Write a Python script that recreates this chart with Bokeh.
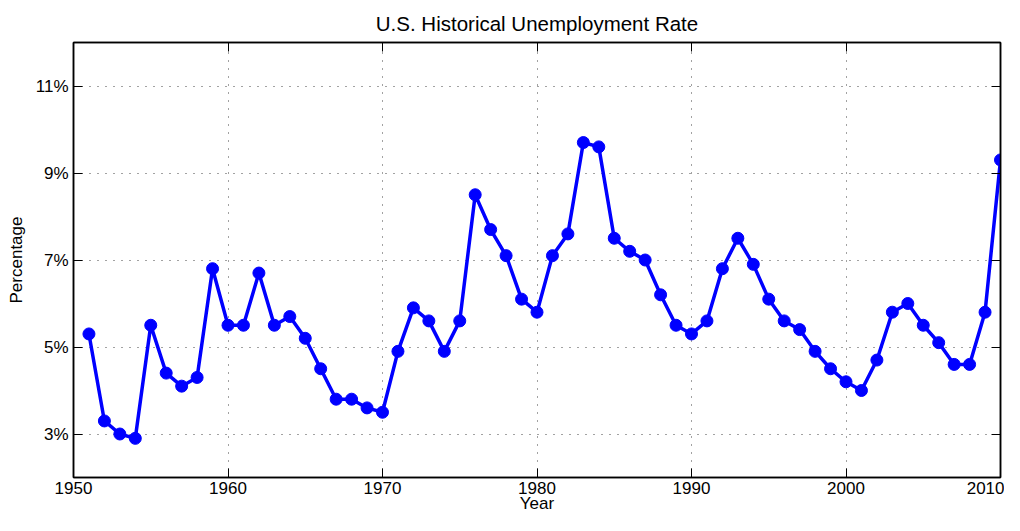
from bokeh.plotting import figure
from bokeh.models import (LinearAxis, FixedTicker, PrintfTickFormatter, Range1d,
                          CustomJSTickFormatter)
from bokeh.embed import file_html
from bokeh.resources import INLINE

years = list(range(1951, 2011))
rates = [5.3, 3.3, 3.0, 2.9, 5.5, 4.4, 4.1, 4.3, 6.8, 5.5,
         5.5, 6.7, 5.5, 5.7, 5.2, 4.5, 3.8, 3.8, 3.6, 3.5,
         4.9, 5.9, 5.6, 4.9, 5.6, 8.5, 7.7, 7.1, 6.1, 5.8,
         7.1, 7.6, 9.7, 9.6, 7.5, 7.2, 7.0, 6.2, 5.5, 5.3,
         5.6, 6.8, 7.5, 6.9, 6.1, 5.6, 5.4, 4.9, 4.5, 4.2,
         4.0, 4.7, 5.8, 6.0, 5.5, 5.1, 4.6, 4.6, 5.8, 9.3]
x_ticks = [1950, 1960, 1970, 1980, 1990, 2000, 2010]
y_ticks = [3, 5, 7, 9, 11]

FONT = "Liberation Sans"
FS = "17px"

p = figure(width=1004, height=515, output_backend="svg", toolbar_location=None,
           x_range=Range1d(1950, 2010), y_range=Range1d(2, 12),
           title="U.S. Historical Unemployment Rate",
           min_border_left=73, min_border_right=4, min_border_top=42, min_border_bottom=20)

p.title.align = "center"
p.title.text_font = FONT
p.title.text_font_size = "20.5px"
p.title.text_font_style = "normal"
p.title.text_color = "black"
p.title.standoff = 15

p.background_fill_color = "white"
p.border_fill_color = "white"
p.outline_line_color = "black"
p.outline_line_width = 1.5

def style_axis(ax, labels=True):
    ax.axis_line_color = "black"
    ax.axis_line_width = 1.5
    ax.major_tick_in = 9
    ax.major_tick_out = 0
    ax.minor_tick_line_color = None
    ax.major_tick_line_color = "black"
    ax.major_tick_line_width = 1
    if labels:
        ax.major_label_text_font = FONT
        ax.major_label_text_font_size = FS
        ax.major_label_text_color = "black"
        ax.axis_label_text_font = FONT
        ax.axis_label_text_font_size = FS
        ax.axis_label_text_font_style = "normal"
        ax.axis_label_text_color = "black"
    else:
        ax.formatter = CustomJSTickFormatter(code="return '';")
        ax.major_label_text_font_size = "0px"
        ax.major_label_standoff = 0

xt = FixedTicker(ticks=x_ticks)
yt = FixedTicker(ticks=y_ticks)
yf = PrintfTickFormatter(format="%d%%")

p.xaxis.ticker = xt
p.yaxis.ticker = yt
p.yaxis.formatter = yf
p.xaxis.axis_label = "Year"
p.yaxis.axis_label = "Percentage"
style_axis(p.xaxis[0])
style_axis(p.yaxis[0])
p.xaxis.major_label_standoff = 4
p.xaxis.axis_label_standoff = -3
p.yaxis.major_label_standoff = 5
p.yaxis.axis_label_standoff = 7

top = LinearAxis(ticker=FixedTicker(ticks=x_ticks))
style_axis(top, labels=False)
p.add_layout(top, "above")
right = LinearAxis(ticker=FixedTicker(ticks=y_ticks))
style_axis(right, labels=False)
p.add_layout(right, "right")

p.xgrid.ticker = xt
p.ygrid.ticker = yt
for g in (p.xgrid[0], p.ygrid[0]):
    g.grid_line_color = "#444444"
    g.grid_line_dash = "1 7"
    g.grid_line_width = 1

p.line(years, rates, line_color="#0000FF", line_width=3.5)
p.scatter(years, rates, size=12, fill_color="#0000FF", line_color="#0000FF")

open("out.html", "w").write(file_html(p, INLINE))
